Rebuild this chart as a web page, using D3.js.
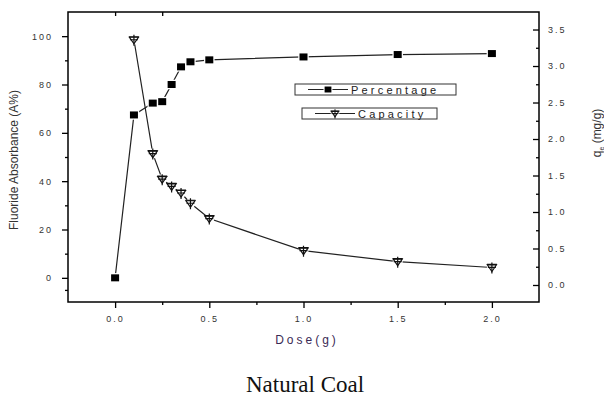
<!DOCTYPE html>
<html>
<head>
<meta charset="utf-8">
<script src="https://cdn.jsdelivr.net/npm/d3@7"></script>
<style>
  body { margin: 0; background: #fff; }
  text { font-family: "Liberation Sans", Arial, sans-serif; }
</style>
</head>
<body>
<div id="chart"></div>
<script>
// data
const dose = [0, 0.1, 0.2, 0.25, 0.3, 0.35, 0.4, 0.5, 1.0, 1.5, 2.0];
const percentage = [0, 67.4, 72.3, 72.9, 80.0, 87.3, 89.4, 90.2, 91.4, 92.4, 92.8];
const capDose = [0.1, 0.2, 0.25, 0.3, 0.35, 0.4, 0.5, 1.0, 1.5, 2.0];
const capacity = [3.36, 1.80, 1.45, 1.35, 1.26, 1.12, 0.91, 0.47, 0.32, 0.24];
const xTicks = [0, 0.5, 1.0, 1.5, 2.0];
const leftTicks = [0, 20, 40, 60, 80, 100];
const rightTicks = [0, 0.5, 1.0, 1.5, 2.0, 2.5, 3.0, 3.5];

let width = 604, height = 398;
let margin = { top: 12, right: 65, bottom: 96, left: 68 };
let w = 539 - 68, h = 302 - 12;

let svg = d3.select("#chart").append("svg")
    .attr("width", width).attr("height", height);
let g = svg.append("g").attr("transform", `translate(${margin.left},${margin.top})`);

let x = d3.scaleLinear().domain([-0.25, 2.25]).range([0, w]);
let yL = d3.scaleLinear().domain([-10, 110]).range([h, 0]);
let yR = d3.scaleLinear().domain([-0.233, 3.74]).range([h, 0]);

const tickFont = "9px";
function styleTicks(sel) {
    sel.selectAll("text").attr("font-size", tickFont).attr("fill", "#333").style("letter-spacing", "2px");
    sel.selectAll("line").attr("stroke", "#000").attr("stroke-width", 1.3);
}

// minor ticks first
g.append("g").attr("transform", `translate(0,${h})`)
    .call(d3.axisBottom(x).tickValues([0.25, 0.75, 1.25, 1.75]).tickSize(3).tickFormat(""))
    .call(s => s.select(".domain").remove()).call(styleTicks);
g.append("g")
    .call(d3.axisBottom(x).tickValues([0, 0.25]).tickSize(4).tickFormat(""))
    .call(s => s.select(".domain").remove()).call(styleTicks);
g.append("g")
    .call(d3.axisLeft(yL).tickValues([-5, 10, 30, 50, 70, 90]).tickSize(3).tickFormat(""))
    .call(s => s.select(".domain").remove()).call(styleTicks);
g.append("g").attr("transform", `translate(${w},0)`)
    .call(d3.axisLeft(yR).tickValues([0.25, 0.75, 1.25, 1.75, 2.25, 2.75, 3.25]).tickSize(3).tickFormat(""))
    .call(s => s.select(".domain").remove()).call(styleTicks);

// major axes
g.append("g").attr("transform", `translate(0,${h})`)
    .call(d3.axisBottom(x).tickValues(xTicks).tickSize(6).tickPadding(8).tickFormat(d3.format(".1f")))
    .call(s => s.select(".domain").remove()).call(styleTicks);
g.append("g")
    .call(d3.axisLeft(yL).tickValues(leftTicks).tickSize(6).tickPadding(9).tickFormat(d3.format("d")))
    .call(s => s.select(".domain").remove()).call(styleTicks);
g.append("g").attr("transform", `translate(${w},0)`)
    .call(d3.axisRight(yR).tickValues(rightTicks).tickSize(0).tickPadding(9).tickFormat(d3.format(".1f")))
    .call(s => s.select(".domain").remove()).call(styleTicks);
g.append("g").attr("transform", `translate(${w},0)`)
    .call(d3.axisLeft(yR).tickValues(rightTicks).tickSize(6).tickFormat(""))
    .call(s => s.select(".domain").remove()).call(styleTicks);

// frame
g.append("rect").attr("width", w).attr("height", h)
    .attr("fill", "none").attr("stroke", "#000").attr("stroke-width", 1.5);

// lines
let pctData = dose.map((d, i) => ({ x: d, y: percentage[i] }));
let capData = capDose.map((d, i) => ({ x: d, y: capacity[i] }));

g.append("path").datum(pctData)
    .attr("fill", "none").attr("stroke", "#222").attr("stroke-width", 1.2)
    .attr("d", d3.line().x(d => x(d.x)).y(d => yL(d.y)));
g.append("path").datum(capData)
    .attr("fill", "none").attr("stroke", "#222").attr("stroke-width", 1.2)
    .attr("d", d3.line().x(d => x(d.x)).y(d => yR(d.y)));

// markers
function squareMark(sel) {
    sel.append("rect").attr("x", -4).attr("y", -3.5).attr("width", 8).attr("height", 7)
        .attr("fill", "#000").attr("stroke", "#fff").attr("stroke-width", 2.5).attr("paint-order", "stroke");
}
function capMark(sel) {
    sel.append("circle").attr("r", 5).attr("fill", "#fff");
    sel.append("path").attr("d", "M-4.5,-2.5 L4.5,-2.5 L0,4 Z")
        .attr("fill", "none").attr("stroke", "#111").attr("stroke-width", 1.2);
    sel.append("path").attr("d", "M0,-5 L0,6 M-4,0 L4,0 M-5,-3 L5,-3")
        .attr("fill", "none").attr("stroke", "#111").attr("stroke-width", 1.2);
}
g.selectAll(".pct").data(pctData).enter().append("g")
    .attr("transform", d => `translate(${x(d.x)},${yL(d.y)})`).call(squareMark);
g.selectAll(".cap").data(capData).enter().append("g")
    .attr("transform", d => `translate(${x(d.x)},${yR(d.y)})`).call(capMark);

// legend
const legendItems = [
    { label: "Percentage", bx: 295, by: 84, bw: 161, mark: squareMark },
    { label: "Capacity", bx: 302, by: 108, bw: 135, mark: capMark }
];
legendItems.forEach(it => {
    let lg = svg.append("g").attr("transform", `translate(${it.bx},${it.by})`);
    lg.append("rect").attr("width", it.bw).attr("height", 11)
        .attr("fill", "#fff").attr("stroke", "#333").attr("stroke-width", 1);
    lg.append("line").attr("x1", 13).attr("x2", 53).attr("y1", 5.5).attr("y2", 5.5)
        .attr("stroke", "#222").attr("stroke-width", 1.2);
    let m = lg.append("g").attr("transform", "translate(33,5.5) scale(0.85)");
    it.mark(m);
    lg.append("text").attr("x", 56).attr("y", 9.8).attr("font-size", "11px").attr("fill", "#222")
        .style("letter-spacing", "3.2px").text(it.label);
});

// axis titles
svg.append("text").attr("transform", "rotate(-90)")
    .attr("x", -160).attr("y", 18).attr("text-anchor", "middle")
    .attr("font-size", "12px").attr("fill", "#333").text("Fluoride Absorbance (A%)");

let rt = svg.append("text").attr("transform", "rotate(-90)")
    .attr("x", -133).attr("y", 601).attr("text-anchor", "middle")
    .attr("font-size", "12px").attr("fill", "#333");
rt.append("tspan").text("q");
rt.append("tspan").attr("font-size", "7px").attr("dy", 3).text("e");
rt.append("tspan").attr("dy", -3).text(" (mg/g)");

svg.append("text").attr("x", 307).attr("y", 344).attr("text-anchor", "middle")
    .attr("font-size", "12px").attr("fill", "#3a2a55").style("letter-spacing", "3px").text("Dose(g)");

svg.append("text").attr("x", 305).attr("y", 392).attr("text-anchor", "middle")
    .style("font-family", "'Liberation Serif', 'Times New Roman', serif")
    .attr("font-size", "23px").attr("fill", "#111").text("Natural Coal");
</script>
</body>
</html>
